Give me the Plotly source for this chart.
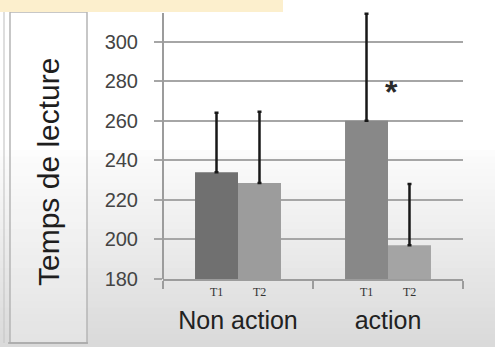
import plotly.graph_objects as go

# Reading time (Temps de lecture) per group, sessions T1 and T2
groups = ["Non action", "action"]
sessions = ["T1", "T2"]
t1_means = [234, 260]
t2_means = [228.5, 197]
t1_err_plus = [30, 54]
t2_err_plus = [36, 31]
y_ticks = [180, 200, 220, 240, 260, 280, 300, 320]
y_labels = ["180", "200", "220", "240", "260", "280", "300", ""]

W, H = 495, 347
L, R, T, B = 163, 32, 2, 68
PW, PH = W - L - R, H - T - B


def px_x(p):
    return (p - L) / PW


def px_y(p):
    return (H - B - p) / PH


fig = go.Figure()

fig.add_trace(go.Bar(
    name="T1", x=groups, y=t1_means,
    marker=dict(color=["#707070", "#888888"], line=dict(width=0)),
    error_y=dict(type="data", symmetric=False, array=t1_err_plus,
                 arrayminus=[0, 0], color="#181818", thickness=2.5, width=2),
))
fig.add_trace(go.Bar(
    name="T2", x=groups, y=t2_means,
    marker=dict(color=["#9c9c9c", "#a4a4a4"], line=dict(width=0)),
    error_y=dict(type="data", symmetric=False, array=t2_err_plus,
                 arrayminus=[0, 0], color="#181818", thickness=2.5, width=2),
))

shapes = []
# soft vertical background gradient
n = 30
for i in range(n):
    y0 = 150 + i * (H - 150) / n
    y1 = 150 + (i + 1) * (H - 150) / n + 1
    v = int(252 - (252 - 218) * (i / (n - 1)))
    shapes.append(dict(type="rect", xref="paper", yref="paper",
                       x0=px_x(0), x1=px_x(W), y0=px_y(y1), y1=px_y(y0),
                       fillcolor=f"rgb({v},{v},{v})", line=dict(width=0),
                       layer="below"))
# left title panel
shapes.append(dict(type="rect", xref="paper", yref="paper",
                   x0=px_x(10), x1=px_x(87), y0=px_y(343), y1=px_y(12),
                   fillcolor="rgba(255,255,255,0.25)",
                   line=dict(color="#b5b5b5", width=1.5), layer="below"))
shapes.append(dict(type="line", xref="paper", yref="paper",
                   x0=px_x(4), x1=px_x(4), y0=px_y(343), y1=px_y(12),
                   line=dict(color="#c8c8c8", width=1.2), layer="below"))
shapes.append(dict(type="line", xref="paper", yref="paper",
                   x0=px_x(8), x1=px_x(88), y0=px_y(343), y1=px_y(343),
                   line=dict(color="#a8a8a8", width=1.5), layer="below"))
# vertical value axis line, starting below the banner strip
shapes.append(dict(type="line", xref="paper", yref="paper",
                   x0=0, x1=0, y0=0, y1=px_y(13),
                   line=dict(color="#9c9c9c", width=2), layer="above"))
# banner strip along the top
shapes.append(dict(type="rect", xref="paper", yref="paper",
                   x0=px_x(0), x1=px_x(283), y0=px_y(12), y1=px_y(0),
                   fillcolor="#fcefcd", line=dict(width=0), layer="above"))

annotations = []
# session labels under each bar
for gi, g in enumerate(groups):
    for si, s in enumerate(sessions):
        off = -0.143 if si == 0 else 0.143
        annotations.append(dict(x=gi + off, xref="x", y=px_y(291.5), yref="paper",
                                text=s, showarrow=False,
                                font=dict(family="Liberation Serif", size=12,
                                          color="#333333"),
                                xanchor="center", yanchor="middle"))
# significance marker
annotations.append(dict(x=1.025, xref="x", y=274.5, yref="y", text="<b>*</b>",
                        showarrow=False,
                        font=dict(family="Liberation Sans", size=32,
                                  color="#2a2a2a"),
                        xanchor="center", yanchor="middle"))
# y-axis title in the side panel
annotations.append(dict(x=px_x(48), xref="paper", y=px_y(172), yref="paper",
                        text="Temps de lecture", textangle=-90, showarrow=False,
                        font=dict(family="Liberation Sans", size=30,
                                  color="#1e1e1e"),
                        xanchor="center", yanchor="middle"))

fig.update_layout(
    width=W, height=H,
    margin=dict(l=L, r=R, t=T, b=B),
    paper_bgcolor="white",
    plot_bgcolor="rgba(0,0,0,0)",
    barmode="group",
    bargap=0.427,
    bargroupgap=0,
    showlegend=False,
    shapes=shapes,
    annotations=annotations,
    xaxis=dict(
        range=[-0.5, 1.5],
        showline=True, linecolor="#9c9c9c", linewidth=2,
        ticks="outside", tickson="boundaries", ticklen=8,
        tickcolor="#9c9c9c", tickwidth=2,
        showgrid=False,
        tickfont=dict(family="Liberation Sans", size=25, color="#222222"),
        ticklabelstandoff=18,
    ),
    yaxis=dict(
        range=[180, 320],
        tickvals=y_ticks, ticktext=y_labels,
        showline=False,
        ticks="outside", ticklen=8, tickcolor="#a6a6a6", tickwidth=2,
        showgrid=True, gridcolor="#a6a6a6", gridwidth=2,
        zeroline=False,
        tickfont=dict(family="Liberation Sans", size=20, color="#444444"),
        ticklabelstandoff=12,
    ),
)

fig.write_html("out.html")
